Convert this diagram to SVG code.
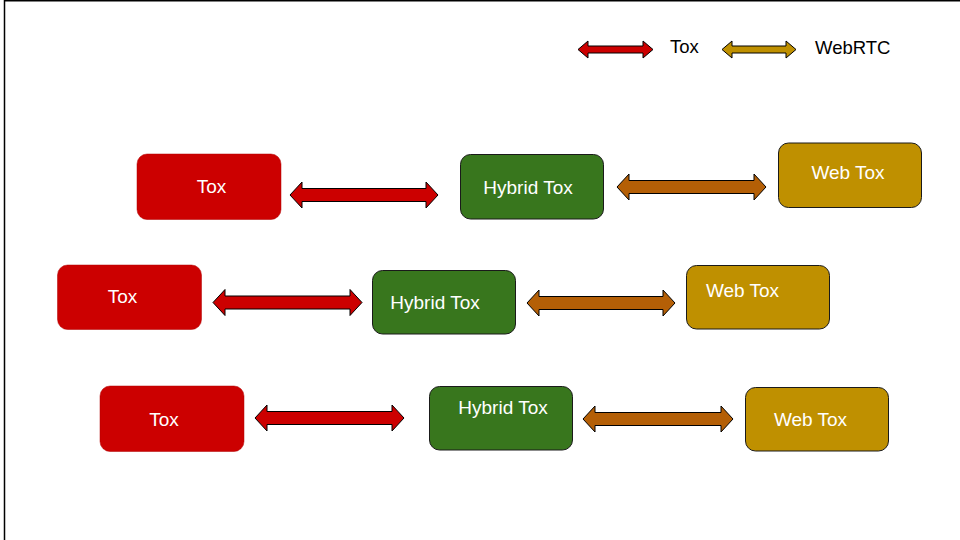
<svg xmlns="http://www.w3.org/2000/svg" width="960" height="540" viewBox="0 0 960 540">
<style>
.tox{fill:#cc0000;stroke:#b00000;stroke-width:0.5}
.hyb{fill:#38761d;stroke:#1a1a1a;stroke-width:1}
.web{fill:#bf9000;stroke:#1a1a1a;stroke-width:1}
.lbl{font-family:"Liberation Sans",Arial,sans-serif;font-size:19px;fill:#ffffff;text-anchor:middle}
.leg{font-family:"Liberation Sans",Arial,sans-serif;font-size:18.5px;fill:#000000}
.ar{fill:#cc0000;stroke:#000;stroke-width:1}
.ao{fill:#b45f06;stroke:#000;stroke-width:1}
.ag{fill:#bf9000;stroke:#000;stroke-width:1}
</style>
<rect width="960" height="540" fill="#ffffff"/>
<path d="M4.5,540 V0.75 H960" fill="none" stroke="#000" stroke-width="1.5"/>
<g id="legend">
<polygon class="ar" points="578,49.5 588,41 588,46 643,46 643,41 653,49.5 643,58 643,53 588,53 588,58"/>
<text class="leg" x="670" y="53">Tox</text>
<polygon class="ag" points="722,49.5 732,41 732,46 786,46 786,41 796,49.5 786,58 786,53 732,53 732,58"/>
<text class="leg" x="815" y="54">WebRTC</text>
</g>
<g id="connectors">
<polygon class="ar" points="290,195 302,182 302,188.5 426,188.5 426,182 438,195 426,208 426,201.5 302,201.5 302,208"/>
<polygon class="ao" points="617,187 629,174 629,180.5 754,180.5 754,174 766,187 754,200 754,193.5 629,193.5 629,200"/>
<polygon class="ar" points="213,302.5 225,289.5 225,296 350,296 350,289.5 362,302.5 350,315.5 350,309 225,309 225,315.5"/>
<polygon class="ao" points="527,303 539,290 539,296.5 663,296.5 663,290 675,303 663,316 663,309.5 539,309.5 539,316"/>
<polygon class="ar" points="255,418 267,405 267,411.5 392,411.5 392,405 404,418 392,431 392,424.5 267,424.5 267,431"/>
<polygon class="ao" points="583,419 595,406 595,412.5 721,412.5 721,406 733,419 721,432 721,425.5 595,425.5 595,432"/>
</g>
<g id="tox1"><rect class="tox" x="137" y="154" width="144" height="65.5" rx="10"/><text class="lbl" x="211.5" y="193">Tox</text></g>
<g id="hybrid1"><rect class="hyb" x="460.5" y="154.5" width="143" height="64.5" rx="10"/><text class="lbl" x="528" y="194">Hybrid Tox</text></g>
<g id="web1"><rect class="web" x="778.5" y="143" width="143" height="64.5" rx="10"/><text class="lbl" x="848" y="179">Web Tox</text></g>
<g id="tox2"><rect class="tox" x="57.5" y="265" width="144" height="64.5" rx="10"/><text class="lbl" x="122.5" y="303">Tox</text></g>
<g id="hybrid2"><rect class="hyb" x="372.5" y="270.5" width="143" height="63.5" rx="10"/><text class="lbl" x="435" y="309">Hybrid Tox</text></g>
<g id="web2"><rect class="web" x="686.5" y="265.5" width="143" height="63.5" rx="10"/><text class="lbl" x="742.5" y="297">Web Tox</text></g>
<g id="tox3"><rect class="tox" x="100" y="386" width="144" height="65.5" rx="10"/><text class="lbl" x="164" y="426">Tox</text></g>
<g id="hybrid3"><rect class="hyb" x="429.5" y="386.5" width="143" height="63.5" rx="10"/><text class="lbl" x="503" y="414">Hybrid Tox</text></g>
<g id="web3"><rect class="web" x="745.5" y="387.5" width="143" height="63.5" rx="10"/><text class="lbl" x="810.5" y="426">Web Tox</text></g>
</svg>
